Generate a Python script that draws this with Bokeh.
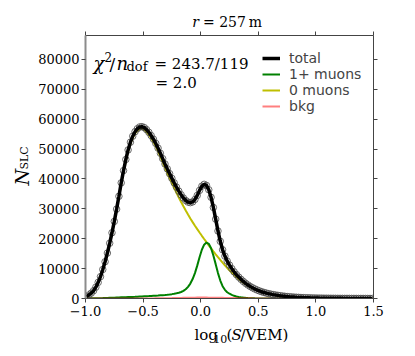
from bokeh.plotting import figure
from bokeh.models import (Range1d, LinearAxis, FixedTicker, CustomJSTickFormatter,
                          Label, Legend, LegendItem, ColumnDataSource)
from bokeh.layouts import row, column
from bokeh.embed import file_html
from bokeh.resources import INLINE
import math

# ---------------- data ----------------
# bin centres of log10(S/VEM), 0.02 wide
log_s = [round(-0.99 + 0.02 * i, 2) for i in range(125)]

n_total = [600, 1200, 1800, 2600, 3800, 5400, 7300, 9700, 12300, 15200,
           18500, 22000, 25800, 29900, 34200, 38700, 42800, 46500, 49700, 52300,
           54300, 55800, 56800, 57400, 57500, 57200, 56500, 55600, 54500, 53300,
           51900, 50300, 48600, 46800, 45000,
           43375, 41780, 40195, 38685, 37250, 35910, 34685, 33625, 32790, 32255,
           32070, 32330, 33140, 34495, 36180, 37580, 38198, 37835, 36390, 33863,
           30455, 26565, 22590, 19135, 16300, 14185, 12510, 11175, 9980, 8925,
           7990, 7155, 6400, 5710, 5080, 4518, 4018, 3578, 3185, 2843,
           2535, 2262, 2022, 1804, 1618, 1454, 1301, 1168, 1046, 934,
           832, 742, 661, 591, 526,
           468, 417, 372, 332, 296, 264, 236, 211, 189, 169,
           151, 135, 121, 108, 97, 87, 78, 70, 63, 57,
           51, 46, 41, 37, 33, 30, 27, 24, 22, 20, 18, 16, 14, 13, 12]

n_zero_mu = [570, 1160, 1750, 2540, 3720, 5300, 7180, 9560, 12130, 15000,
             18270, 21740, 25510, 29580, 33850, 38320, 42390, 46060, 49230, 51800,
             53770, 55230, 56190, 56750, 56810, 56465, 55720, 54775, 53620, 52365,
             50905, 49245, 47475, 45605, 43720,
             42000, 40300, 38600, 36950, 35350, 33800, 32300, 30850, 29450, 28100,
             26800, 25550, 24350, 23200, 22080, 20980, 19900, 18840, 17800, 16780,
             15780, 14800, 13840, 12900, 11980, 11080, 10220, 9400, 8620, 7880,
             7180, 6520, 5900, 5320, 4780, 4290, 3850, 3450, 3090, 2770,
             2480, 2220, 1990, 1780, 1600, 1440, 1290, 1160, 1040, 930,
             830, 740, 660, 590, 525,
             468, 417, 372, 332, 296, 264, 236, 211, 189, 169,
             151, 135, 121, 108, 97, 87, 78, 70, 63, 57,
             51, 46, 41, 37, 33, 30, 27, 24, 22, 20, 18, 16, 14, 13, 12]

n_one_mu = [30, 40, 50, 60, 80, 100, 120, 140, 170, 200,
            230, 260, 290, 320, 350, 380, 410, 440, 470, 500,
            530, 560, 600, 640, 680, 720, 760, 800, 850, 900,
            950, 1000, 1060, 1120, 1190,
            1270, 1360, 1460, 1580, 1730, 1920, 2180, 2550, 3100, 3900,
            5000, 6500, 8500, 11000, 13800, 16300, 18000, 18700, 18300, 16800,
            14400, 11500, 8500, 6000, 4100, 2900, 2100, 1600, 1200, 900,
            680, 520, 400, 300, 220, 160, 110, 80, 55, 40,
            28, 20, 14, 10, 7, 5, 4, 3, 2, 1,
            0, 0, 0, 0, 0,
            0, 0, 0, 0, 0, 0, 0, 0, 0, 0,
            0, 0, 0, 0, 0, 0, 0, 0, 0, 0,
            0, 0, 0, 0, 0, 0, 0, 0, 0, 0, 0, 0, 0, 0, 0]

n_bkg = [0, 0, 0, 0, 0, 0, 0, 0, 0, 0,
         0, 0, 0, 0, 1, 1, 2, 2, 3, 3,
         4, 6, 7, 9, 11, 15, 19, 24, 30, 36,
         45, 55, 65, 75, 90,
         105, 120, 135, 155, 170, 190, 205, 225, 240, 255,
         270, 280, 290, 295, 300, 300, 298, 295, 290, 283,
         275, 265, 250, 235, 220, 205, 190, 175, 160, 145,
         130, 115, 100, 90, 80, 68, 58, 48, 40, 33,
         27, 22, 18, 14, 11, 9, 7, 5, 4, 3,
         2, 2, 1, 1, 1,
         0, 0, 0, 0, 0, 0, 0, 0, 0, 0,
         0, 0, 0, 0, 0, 0, 0, 0, 0, 0,
         0, 0, 0, 0, 0, 0, 0, 0, 0, 0, 0, 0, 0, 0, 0]

x_ticks = [-1.0, -0.5, 0.0, 0.5, 1.0, 1.5]
y_ticks = [0, 10000, 20000, 30000, 40000, 50000, 60000, 70000, 80000]
legend_labels = ["total", "1+ muons", "0 muons", "bkg"]
X_MIN, X_MAX, Y_MIN, Y_MAX = -1.0, 1.5, 0, 88000

src = ColumnDataSource(dict(x=log_s, total=n_total, zero=n_zero_mu, one=n_one_mu, bkg=n_bkg))

SERIF = "DejaVu Serif"

# ---------------- main plot ----------------
p = figure(width=370, height=291, x_range=Range1d(X_MIN, X_MAX), y_range=Range1d(Y_MIN, Y_MAX),
           output_backend="svg", toolbar_location=None,
           min_border_left=48, min_border_right=32, min_border_top=5, min_border_bottom=23)
p.outline_line_color = None
p.xgrid.visible = False
p.ygrid.visible = False
p.background_fill_color = "white"
p.border_fill_color = "white"

r_zero = p.line("x", "zero", source=src, color="#bfbf00", line_width=2)
r_one = p.line("x", "one", source=src, color="#008000", line_width=2)
r_bkg = p.line("x", "bkg", source=src, color="red", line_alpha=0.5, line_width=2)
p.scatter("x", "total", source=src, marker="circle", size=6.5, fill_color=None,
          line_color="#444444", line_width=0.8)
r_tot = p.line("x", "total", source=src, color="black", line_width=3.5)

fmt_x = CustomJSTickFormatter(code="return tick.toFixed(1).replace('-', '\u2212');")
fmt_y = CustomJSTickFormatter(code="return tick.toFixed(0);")


def style(ax, ticks, formatter, color="#444444", width=1, size="13px"):
    ax.ticker = FixedTicker(ticks=ticks)
    ax.formatter = formatter
    ax.major_tick_in = 0
    ax.major_tick_out = 4
    ax.minor_tick_line_color = None
    ax.axis_line_color = color
    ax.axis_line_width = width
    ax.major_tick_line_color = "#444444"
    ax.major_label_text_font = SERIF
    ax.major_label_text_font_size = size
    ax.major_label_text_color = "black"


style(p.xaxis[0], x_ticks, fmt_x)
p.xaxis[0].major_label_standoff = 3
style(p.yaxis[0], y_ticks, fmt_y, color="#8c8c8c", width=2)
p.yaxis[0].major_label_standoff = 2
top = LinearAxis()
style(top, x_ticks, CustomJSTickFormatter(code="return '';"), size="0px")
top.major_label_standoff = 0
p.add_layout(top, "above")
right = LinearAxis()
style(right, y_ticks, CustomJSTickFormatter(code="return '';"), size="0px")
right.major_label_standoff = 0
p.add_layout(right, "right")

legend = Legend(items=[LegendItem(label=legend_labels[0], renderers=[r_tot]),
                       LegendItem(label=legend_labels[1], renderers=[r_one]),
                       LegendItem(label=legend_labels[2], renderers=[r_zero]),
                       LegendItem(label=legend_labels[3], renderers=[r_bkg])],
                location=(177, 184), padding=0, margin=0, spacing=0,
                border_line_color=None, background_fill_alpha=0,
                label_text_font="DejaVu Sans", label_text_font_size="14px",
                glyph_width=18, glyph_height=14, label_height=14, label_standoff=9)
p.add_layout(legend)


def lab(fig, text, x, y, size, style="normal", angle=0.0, xo=0, yo=0, font=SERIF):
    fig.add_layout(Label(x=x, y=y, x_offset=xo, y_offset=yo, text=text, text_font=font,
                         text_font_size=f"{size}px", text_font_style=style, angle=angle,
                         text_align="left", text_baseline="alphabetic", text_color="black"))


# chi2 text (inside the frame, anchored at its top-left corner)
lab(p, "\u03c7", X_MIN, Y_MAX, 18, "italic", xo=8, yo=-28)
lab(p, "2", X_MIN, Y_MAX, 12, xo=19, yo=-21)
lab(p, "/", X_MIN, Y_MAX, 17, xo=24, yo=-28)
lab(p, "n", X_MIN, Y_MAX, 18, "italic", xo=31, yo=-28)
lab(p, "dof", X_MIN, Y_MAX, 13, xo=41, yo=-31)
lab(p, "= 243.7/119", X_MIN, Y_MAX, 15, xo=69, yo=-28)
lab(p, "= 2.0", X_MIN, Y_MAX, 15, xo=70, yo=-47)


# ---------------- text panels around the plot ----------------
def text_fig(w, h):
    f = figure(width=w, height=h, x_range=Range1d(0, w), y_range=Range1d(0, h),
               min_border=0, toolbar_location=None, output_backend="svg",
               x_axis_type=None, y_axis_type=None)
    f.outline_line_color = None
    f.background_fill_color = "white"
    f.border_fill_color = "white"
    return f


title_fig = text_fig(370, 30)
lab(title_fig, "r", 137, 9, 14, "italic")
lab(title_fig, "= 257\u2009m", 151, 9, 14)

xlab_fig = text_fig(370, 24)
lab(xlab_fig, "log", 140, 10.5, 15)
lab(xlab_fig, "10", 164, 6.5, 11)
lab(xlab_fig, "(", 181, 10.5, 15)
lab(xlab_fig, "S", 187.5, 10.5, 15, "italic")
lab(xlab_fig, "/VEM)", 199, 10.5, 15)

ylab_fig = text_fig(35, 345)
lab(ylab_fig, "N", 21, 160, 19, "italic", angle=math.pi / 2)
lab(ylab_fig, "SLC", 24, 176, 11, angle=math.pi / 2)

layout = row(ylab_fig, column(title_fig, p, xlab_fig))

open("out.html", "w").write(file_html(layout, INLINE))
